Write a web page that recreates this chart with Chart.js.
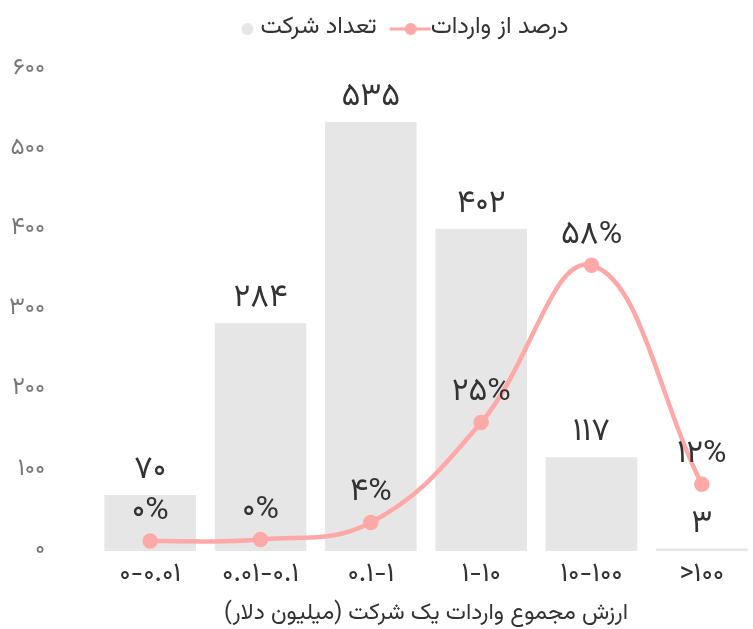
<!DOCTYPE html>
<html lang="fa">
<head>
<meta charset="utf-8">
<script src="https://cdn.jsdelivr.net/npm/chart.js@4.4.1/dist/chart.umd.min.js"></script>
<style>
    html, body { margin: 0; padding: 0; background: #fff; overflow: hidden; }
    #wrap { width: 767px; height: 629px; }
</style>
</head>
<body>
<div id="wrap"><canvas id="importChart"></canvas></div>
<script>
// داده‌ها
const categories = ['0-0.01', '0.01-0.1', '0.1-1', '1-10', '10-100', '>100'];
const companyCounts = [70, 284, 535, 402, 117, 3];
const importShare = [0.1, 0.4, 4, 25, 58, 12];

const barColor = '#e6e6e6';
const lineColor = '#ffa8a8';
const fontFamily = 'Vazirmatn, "DejaVu Sans", sans-serif';

// تبدیل ارقام به فارسی
const toFa = (s) => String(s).replace(/[0-9]/g, d => '۰۱۲۳۴۵۶۷۸۹'[d]);

// نماد راهنما (کمی به راست جابجا شده تا به متن نزدیک‌تر باشد)
const makeSymbol = (kind) => {
    const c = document.createElement('canvas');
    c.width = 56; c.height = 14;
    const g = c.getContext('2d');
    if (kind === 'line') {
        g.strokeStyle = lineColor;
        g.lineWidth = 3;
        g.beginPath(); g.moveTo(14, 7); g.lineTo(55, 7); g.stroke();
        g.fillStyle = lineColor;
        g.beginPath(); g.arc(35, 7, 6, 0, Math.PI * 2); g.fill();
    } else {
        g.fillStyle = barColor;
        g.beginPath(); g.arc(42, 7, 6, 0, Math.PI * 2); g.fill();
    }
    return c;
};

// فاصله زیر راهنما و جابجایی افقی آن
const legendSpacer = {
    id: 'legendSpacer',
    beforeInit(chart) {
        const fit = chart.legend.fit;
        chart.legend.fit = function () {
            fit.bind(chart.legend)();
            this.height += 19;
        };
    },
    afterLayout(chart) {
        chart.legend.left += 20;
    }
};

// برچسب مقادیر
const valueLabels = {
    id: 'valueLabels',
    afterDatasetsDraw(chart) {
        const ctx = chart.ctx;
        ctx.save();
        ctx.font = '32px ' + fontFamily;
        ctx.fillStyle = '#333';
        ctx.textAlign = 'center';
        ctx.textBaseline = 'middle';
        chart.getDatasetMeta(0).data.forEach((el, i) => {
            ctx.fillText(toFa(companyCounts[i]), el.x, el.y - 22);
        });
        chart.getDatasetMeta(1).data.forEach((el, i) => {
            ctx.fillText(toFa(Math.round(importShare[i])) + '%', el.x, el.y - 27);
        });
        ctx.restore();
    }
};

new Chart(document.getElementById('importChart'), {
    data: {
        labels: categories.map(toFa),
        datasets: [{
            type: 'bar',
            label: 'تعداد شرکت',
            data: companyCounts,
            backgroundColor: barColor,
            barPercentage: 1,
            categoryPercentage: 0.83,
            yAxisID: 'y',
            order: 2
        }, {
            type: 'line',
            label: 'درصد از واردات',
            data: importShare,
            borderColor: lineColor,
            backgroundColor: lineColor,
            borderWidth: 4.5,
            pointRadius: 5.5,
            pointHoverRadius: 5.5,
            tension: 0.4,
            yAxisID: 'y2',
            order: 1
        }]
    },
    options: {
        responsive: true,
        maintainAspectRatio: false,
        animation: false,
        layout: { padding: { left: 0, top: 5, bottom: 0 } },
        plugins: {
            legend: {
                position: 'top',
                labels: {
                    usePointStyle: true,
                    pointStyleWidth: 30,
                    padding: 12,
                    color: '#333',
                    font: { family: fontFamily, size: 24 },
                    generateLabels: () => [
                        { text: 'تعداد شرکت', pointStyle: makeSymbol('circle'), datasetIndex: 0, fontColor: '#333', lineWidth: 0, strokeStyle: 'transparent', fillStyle: barColor },
                        { text: 'درصد از واردات', pointStyle: makeSymbol('line'), datasetIndex: 1, fontColor: '#333', lineWidth: 0, strokeStyle: 'transparent', fillStyle: lineColor }
                    ]
                }
            },
            tooltip: { enabled: false }
        },
        scales: {
            x: {
                grid: { display: false },
                border: { display: false },
                ticks: { color: '#333', font: { family: fontFamily, size: 27 }, padding: 2 },
                title: {
                    display: true,
                    text: 'ارزش مجموع واردات یک شرکت (میلیون دلار)',
                    color: '#333',
                    font: { family: fontFamily, size: 23 },
                    padding: { top: 6, bottom: 0 }
                }
            },
            y: {
                min: 0,
                max: 600,
                grid: { display: false },
                border: { display: false },
                afterFit: (scale) => { scale.width = 95; },
                ticks: {
                    stepSize: 100,
                    color: '#777',
                    padding: 42,
                    font: { family: fontFamily, size: 24 },
                    callback: (v) => toFa(v)
                }
            },
            y2: {
                display: false,
                min: -2,
                max: 99
            }
        }
    },
    plugins: [valueLabels, legendSpacer]
});
</script>
</body>
</html>
